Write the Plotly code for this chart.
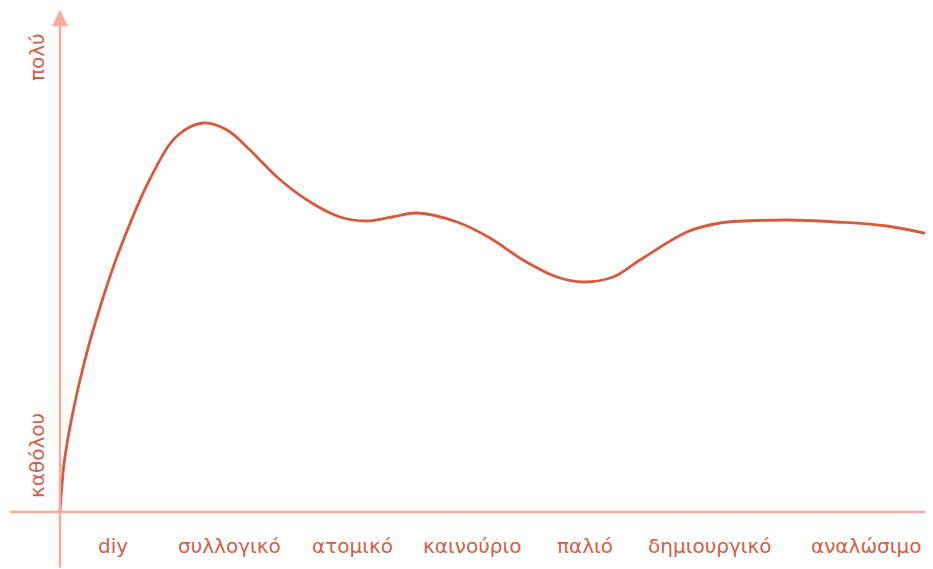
import plotly.graph_objects as go

# curve (x: distance along the axis, y: 0 = "καθόλου", 100 = "πολύ")
curve_x = [0, 4, 10, 20, 30, 42, 58, 90, 117, 143, 167, 190, 217, 247, 280, 307, 332,
           357, 397, 430, 463, 497, 523, 553, 580, 627, 660, 727, 777, 827, 873]
curve_y = [0, 9.6, 17, 26.4, 34.2, 42.2, 51.6, 66.6, 75.2, 77.8, 76.4, 72.4, 67, 62.4, 59, 58.2, 59,
           59.8, 58, 54.8, 50.4, 47, 46, 47, 50.4, 56, 57.8, 58.4, 58, 57.2, 55.4]

categories = ["diy", "συλλογικό", "ατομικό", "καινούριο", "παλιό", "δημιουργικό", "αναλώσιμο"]
category_pos = [53, 169, 292, 412, 525, 650, 806]

y_labels = ["καθόλου", "πολύ"]
y_label_pos = [11.2, 91]

LINE = "#d65a3d"
AXIS = "#f4ad9f"
TEXT = "#d0604a"
FONT = "DejaVu Sans"

fig = go.Figure()
fig.add_trace(go.Scatter(
    x=curve_x, y=curve_y, mode="lines",
    line=dict(color=LINE, width=2.8, shape="spline", smoothing=1.0),
    hoverinfo="skip", showlegend=False,
))

# horizontal axis line
fig.add_shape(type="line", x0=-50, x1=873, y0=0, y1=0,
              line=dict(color=AXIS, width=2.5), layer="below")
# vertical axis with arrow
fig.add_annotation(x=0, y=100.4, ax=0, ay=-11.4, xref="x", yref="y",
                   axref="x", ayref="y", showarrow=True, arrowhead=2,
                   arrowsize=1.3, arrowwidth=2.5, arrowcolor=AXIS, text="")

for name, pos in zip(categories, category_pos):
    fig.add_annotation(x=pos, y=-6.8, text=name, showarrow=False,
                       font=dict(family=FONT, size=20, color=TEXT))

for name, pos in zip(y_labels, y_label_pos):
    fig.add_annotation(x=-23, y=pos, text=name, showarrow=False, textangle=-90,
                       font=dict(family=FONT, size=20, color=TEXT))

# the page body has an 8px margin, so the figure is 8px smaller and the ranges shifted
fig.update_layout(
    width=925, height=561,
    margin=dict(l=0, r=0, t=0, b=0),
    paper_bgcolor="white", plot_bgcolor="white",
    xaxis=dict(range=[-52, 873], visible=False, fixedrange=True),
    yaxis=dict(range=[-11.4, 100.8], visible=False, fixedrange=True),
)

fig.write_html("out.html")
